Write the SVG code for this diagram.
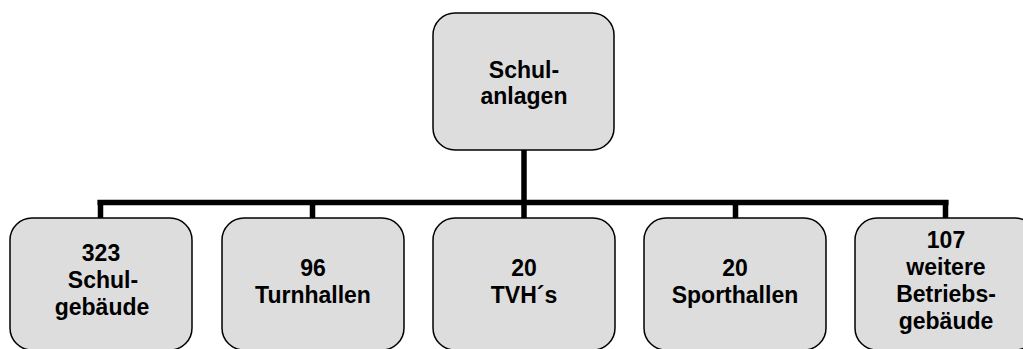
<svg xmlns="http://www.w3.org/2000/svg" width="1023" height="349" viewBox="0 0 1023 349">
<style>
.box{fill:#dddddd;stroke:#000;stroke-width:1.5}
.t{font-family:"Liberation Sans",Arial,sans-serif;font-weight:bold;font-size:23px;fill:#000;text-anchor:middle}
.c{stroke:#000;stroke-width:5.5;fill:none;stroke-linecap:butt}
</style>
<rect width="1023" height="349" fill="#fff"/>
<g id="connectors">
<path class="c" d="M524 150 V218"/>
<path class="c" d="M97.5 202.5 H948.5"/>
<path class="c" d="M100.5 200 V218 M312.5 202 V218 M735.5 202 V218 M945.5 200 V218"/>
</g>
<g id="schulanlagen">
<rect class="box" x="433" y="13" width="181" height="137" rx="22"/>
<text class="t" x="524" y="78">Schul-</text>
<text class="t" x="524" y="104">anlagen</text>
</g>
<g id="schulgebaeude">
<rect class="box" x="10" y="218" width="182" height="132" rx="22"/>
<text class="t" x="101" y="261">323</text>
<text class="t" x="103" y="288">Schul-</text>
<text class="t" x="102" y="315">gebäude</text>
</g>
<g id="turnhallen">
<rect class="box" x="222" y="218" width="182" height="132" rx="22"/>
<text class="t" x="313" y="276">96</text>
<text class="t" x="313" y="303">Turnhallen</text>
</g>
<g id="tvhs">
<rect class="box" x="433" y="218" width="182" height="132" rx="22"/>
<text class="t" x="524" y="276">20</text>
<text class="t" x="524" y="303">TVH´s</text>
</g>
<g id="sporthallen">
<rect class="box" x="644" y="218" width="182" height="132" rx="22"/>
<text class="t" x="735" y="276">20</text>
<text class="t" x="735" y="303">Sporthallen</text>
</g>
<g id="betriebsgebaeude">
<rect class="box" x="855" y="218" width="182" height="132" rx="22"/>
<text class="t" x="946" y="248">107</text>
<text class="t" x="946" y="275">weitere</text>
<text class="t" x="946" y="302">Betriebs-</text>
<text class="t" x="946" y="329">gebäude</text>
</g>
</svg>
